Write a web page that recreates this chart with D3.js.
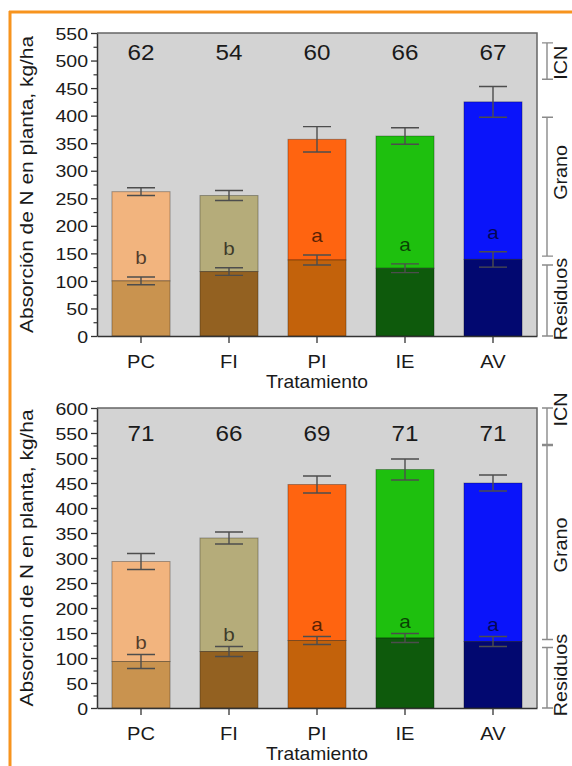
<!DOCTYPE html>
<html><head><meta charset="utf-8">
<script src="https://cdn.jsdelivr.net/npm/d3@7/dist/d3.min.js"></script>
<style>
body{margin:0;background:#fff;}
text{font-family:"Liberation Sans",Arial,Helvetica,sans-serif;fill:#1a1a1a;}
</style>
</head><body>
<svg id="chart" width="572" height="766"></svg>
<script>
// ---------- data ----------
const categories = ["PC", "FI", "PI", "IE", "AV"];
const grainColors   = ["#F2B47E", "#B5AC7A", "#FF6410", "#1EC00E", "#0A14FA"];
const residueColors = ["#C9934F", "#936121", "#C3620B", "#0E5A0C", "#020870"];
const letters = ["b", "b", "a", "a", "a"];
const bracketLabels = ["ICN", "Grano", "Residuos"];

// upper panel
const residue1    = [100, 117, 138, 123, 139];
const residueErr1 = [7, 7, 9, 8, 14];
const total1      = [262, 255, 357, 363, 425];
const totalErr1   = [7, 9, 23, 15, 28];
const icn1        = [62, 54, 60, 66, 67];
const yTicks1     = [0, 50, 100, 150, 200, 250, 300, 350, 400, 450, 500, 550];
const brackets1   = [[466, 532], [145, 397], [0, 129]];
const bracketLabelAt1 = [496, 297, 67];

// lower panel
const residue2    = [93, 113, 135, 140, 133];
const residueErr2 = [14, 10, 8, 9, 10];
const total2      = [293, 340, 447, 477, 450];
const totalErr2   = [16, 12, 17, 21, 16];
const icn2        = [71, 66, 69, 71, 71];
const yTicks2     = [0, 50, 100, 150, 200, 250, 300, 350, 400, 450, 500, 550, 600];
const brackets2   = [[527, 600], [137, 525], [0, 121]];
const bracketLabelAt2 = [597, 326, 66];

const yTitle = "Absorción de N en planta, kg/ha";
const xTitle = "Tratamiento";

// ---------- drawing ----------
const svg = d3.select("#chart");
const SX = 1.15; // horizontal widening of glyphs

// orange frame
svg.append("line").attr("x1", 9).attr("x2", 572).attr("y1", 12).attr("y2", 12)
  .attr("stroke", "#F7941E").attr("stroke-width", 3);
svg.append("line").attr("x1", 10).attr("x2", 10).attr("y1", 11).attr("y2", 766)
  .attr("stroke", "#F7941E").attr("stroke-width", 3);

function txt(g, x, y, s, size, anchor, rot, sx) {
  return g.append("text")
    .attr("transform", `translate(${x},${y})` + (rot ? ` rotate(${rot})` : "") + ` scale(${sx || SX},1)`)
    .attr("text-anchor", anchor || "middle")
    .style("font-size", size + "px")
    .text(s);
}

function panel(cfg) {
  const left = 97, right = 537;
  const g = svg.append("g");
  const x = d3.scaleBand().domain(categories).range([left, right]).paddingInner(0.34).paddingOuter(0.17);
  const yMax = cfg.ticks[cfg.ticks.length - 1];
  const y = d3.scaleLinear().domain([0, yMax]).range([cfg.bottom, cfg.top]);

  // background
  g.append("rect").attr("x", left).attr("y", cfg.top).attr("width", right - left)
    .attr("height", cfg.bottom - cfg.top).attr("fill", "#D3D3D3");
  g.append("path").attr("d", `M${left},${cfg.top}H${right}V${cfg.bottom}`)
    .attr("fill", "none").attr("stroke", "#666").attr("stroke-width", 1.5);

  // bars
  categories.forEach((c, i) => {
    const bx = x(c), bw = x.bandwidth();
    g.append("rect").attr("x", bx).attr("width", bw)
      .attr("y", y(cfg.total[i])).attr("height", y(cfg.residue[i]) - y(cfg.total[i]))
      .attr("fill", grainColors[i]).attr("stroke", "rgba(0,0,0,0.3)").attr("stroke-width", 1);
    g.append("rect").attr("x", bx).attr("width", bw)
      .attr("y", y(cfg.residue[i])).attr("height", y(0) - y(cfg.residue[i]))
      .attr("fill", residueColors[i]).attr("stroke", "rgba(0,0,0,0.3)").attr("stroke-width", 1);
  });

  // error bars
  const cw = 14;
  categories.forEach((c, i) => {
    const cx = x(c) + x.bandwidth() / 2;
    [[cfg.residue[i], cfg.residueErr[i]], [cfg.total[i], cfg.totalErr[i]]].forEach(([v, e]) => {
      const y1 = y(v + e), y2 = y(v - e);
      g.append("path").attr("d", `M${cx},${y1}V${y2}M${cx - cw},${y1}H${cx + cw}M${cx - cw},${y2}H${cx + cw}`)
        .attr("fill", "none").attr("stroke", "#4d4d4d").attr("stroke-width", 1.4);
    });
    // significance letter
    txt(g, cx, y(cfg.residue[i] + cfg.residueErr[i]) - cfg.letterGap, letters[i], 18, "middle")
      .style("fill", "#000").style("fill-opacity", 0.68);
    // ICN value
    txt(g, cx, cfg.top + cfg.icnOffset, cfg.icn[i], 22, "middle", 0, 1.1);
  });

  // y axis
  const ya = g.append("g").attr("transform", `translate(${left},0)`)
    .call(d3.axisLeft(y).tickValues(cfg.ticks).tickSize(6).tickSizeOuter(0).tickPadding(4));
  ya.select(".domain").attr("stroke", "#333").attr("stroke-width", 1.5);
  ya.selectAll(".tick line").attr("stroke", "#333").attr("stroke-width", 1.3);
  ya.selectAll(".tick text").attr("x", null).attr("dy", "0.36em")
    .attr("transform", `translate(-9,0) scale(${SX},1)`)
    .style("font-size", "17px").style("font-family", null).style("fill", "#1a1a1a");
  const minor = cfg.ticks.slice(0, -1).map(t => t + 25);
  const ym = g.append("g").attr("transform", `translate(${left},0)`)
    .call(d3.axisLeft(y).tickValues(minor).tickSize(3.5).tickFormat(""));
  ym.select(".domain").remove();
  ym.selectAll(".tick line").attr("stroke", "#333").attr("stroke-width", 1.2);

  // x axis
  const xa = g.append("g").attr("transform", `translate(0,${cfg.bottom})`)
    .call(d3.axisBottom(x).tickSize(7).tickSizeOuter(0));
  xa.select(".domain").attr("stroke", "#333").attr("stroke-width", 1.5);
  xa.selectAll(".tick line").attr("stroke", "#333").attr("stroke-width", 1.3);
  xa.selectAll(".tick text").attr("y", 32).attr("dy", null)
    .attr("transform", `scale(${SX},1)`)
    .style("font-size", "17.5px").style("font-family", null).style("fill", "#1a1a1a");

  // titles
  txt(g, (left + right) / 2, cfg.bottom + 52, xTitle, 17.5, "middle", 0, 1.1);
  txt(g, 33, (cfg.top + cfg.bottom) / 2, yTitle, 17.7, "middle", -90, 1.18);

  // right brackets
  const bxl = 547;
  cfg.brackets.forEach((b, k) => {
    const y1 = y(b[1]), y2 = y(b[0]);
    g.append("path").attr("d", `M${bxl},${y1}V${y2}M${bxl - 5},${y1}H${bxl + 6}M${bxl - 5},${y2}H${bxl + 6}`)
      .attr("fill", "none").attr("stroke", "#8a8a8a").attr("stroke-width", 1.4);
    txt(g, 567, y(cfg.bracketAt[k]), bracketLabels[k], 17.5, "middle", -90, 1.13);
  });
}

panel({top: 33, bottom: 336, ticks: yTicks1, residue: residue1, residueErr: residueErr1,
  total: total1, totalErr: totalErr1, icn: icn1, letterGap: 13, icnOffset: 27,
  brackets: brackets1, bracketAt: bracketLabelAt1});
panel({top: 408, bottom: 708, ticks: yTicks2, residue: residue2, residueErr: residueErr2,
  total: total2, totalErr: totalErr2, icn: icn2, letterGap: 6, icnOffset: 33,
  brackets: brackets2, bracketAt: bracketLabelAt2});
</script>
</body></html>
